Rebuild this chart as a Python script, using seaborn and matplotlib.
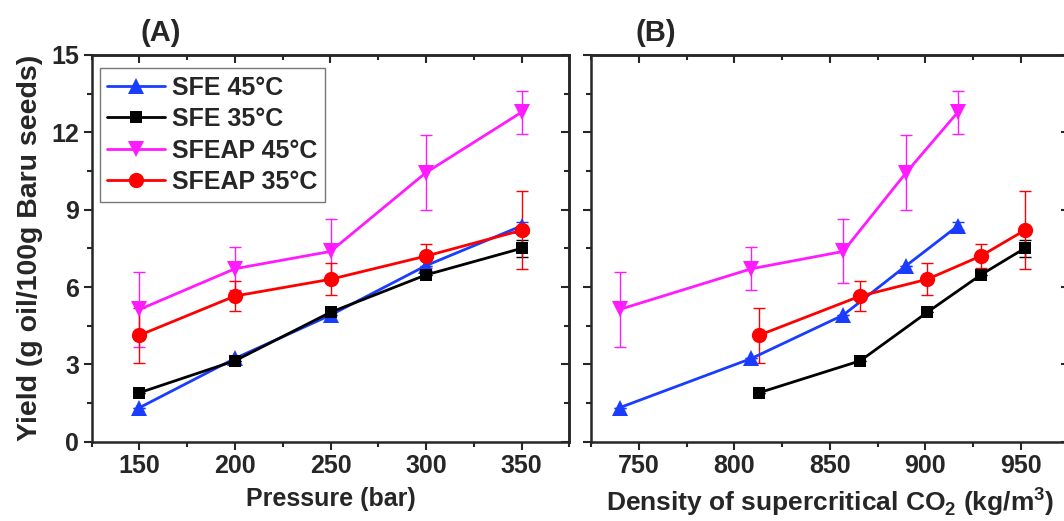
import matplotlib
matplotlib.use('Agg')
from matplotlib import pyplot as plt
from matplotlib.ticker import MultipleLocator
import seaborn as sns
import pandas as pd

pressure = [150, 200, 250, 300, 350]
density_45 = [740, 809, 857, 890, 917]
density_35 = [813, 866, 901, 929, 952]

series_names = ['SFE 45°C', 'SFE 35°C', 'SFEAP 45°C', 'SFEAP 35°C']
sfe_45 = [1.32, 3.23, 4.91, 6.83, 8.37]
sfe_35 = [1.90, 3.14, 5.02, 6.47, 7.50]
sfeap_45 = [5.13, 6.71, 7.38, 10.44, 12.78]
sfeap_35 = [4.13, 5.65, 6.30, 7.20, 8.20]

sfe_45_err = [0, 0, 0, 0, 0.15]
sfe_35_err = [0, 0, 0, 0, 0.33]
sfeap_45_err = [1.47, 0.83, 1.24, 1.45, 0.84]
sfeap_35_err = [1.07, 0.59, 0.62, 0.45, 1.51]

colors = ['#1a3cff', '#000000', '#ff1aff', '#ff0000']
markers = ['^', 's', 'v', 'o']
marker_sizes = [11, 9, 11, 11]

values = [sfe_45, sfe_35, sfeap_45, sfeap_35]
errors = [sfe_45_err, sfe_35_err, sfeap_45_err, sfeap_35_err]
densities = [density_45, density_35, density_45, density_35]

rows = []
for name, ys, errs, dens in zip(series_names, values, errors, densities):
    for p, d, y, e in zip(pressure, dens, ys, errs):
        rows.append({'series': name, 'pressure': p, 'density': d, 'yield': y, 'err': e})
df = pd.DataFrame(rows)

sns.set_style('ticks')
plt.rcParams['font.family'] = ['Liberation Sans', 'DejaVu Sans']
plt.rcParams['font.weight'] = 'bold'
plt.rcParams['mathtext.fontset'] = 'custom'
plt.rcParams['mathtext.rm'] = 'Liberation Sans:bold'
plt.rcParams['mathtext.bf'] = 'Liberation Sans:bold'

fig = plt.figure(figsize=(10.64, 5.21), dpi=100)
W, H = 1064, 521
ax_a = fig.add_axes([91.7 / W, (H - 441.7) / H, 477.6 / W, 386.7 / H])
ax_b = fig.add_axes([591.0 / W, (H - 441.7) / H, 477.6 / W, 386.7 / H])


def draw_panel(ax, xcol, xlim, xticks, show_legend):
    for name, color in zip(series_names, colors):
        sub = df[df['series'] == name]
        ax.errorbar(sub[xcol], sub['yield'], yerr=sub['err'], fmt='none',
                    ecolor=color, elinewidth=1.0, capsize=4, capthick=1.0, zorder=1)
    for name, color, mk, ms in zip(series_names, colors, markers, marker_sizes):
        sub = df[df['series'] == name]
        sns.lineplot(data=sub, x=xcol, y='yield', color=color, marker=mk,
                     markersize=ms, markeredgewidth=0, linewidth=2.0,
                     label=name, legend=show_legend, ax=ax, zorder=3)
    ax.set_xlim(*xlim)
    ax.set_ylim(0, 15)
    ax.set_xticks(xticks)
    ax.xaxis.set_minor_locator(MultipleLocator(25))
    ax.yaxis.set_major_locator(MultipleLocator(3))
    ax.yaxis.set_minor_locator(MultipleLocator(1.5))
    for s in ax.spines.values():
        s.set_linewidth(1.8)
        s.set_visible(True)
    ax.tick_params(axis='both', which='major', direction='out', length=6, width=1.5,
                   labelsize=18, pad=3)
    ax.tick_params(axis='both', which='minor', direction='out', length=3.5, width=1.5)
    for lab in ax.get_xticklabels() + ax.get_yticklabels():
        lab.set_fontweight('bold')

    top = ax.secondary_xaxis('top')
    top.set_xticks(xticks)
    top.xaxis.set_minor_locator(MultipleLocator(25))
    top.tick_params(which='major', direction='in', length=6, width=1.5, labeltop=False)
    top.tick_params(which='minor', direction='in', length=3.5, width=1.5)
    top.spines['top'].set_linewidth(1.8)
    right = ax.secondary_yaxis('right')
    right.yaxis.set_major_locator(MultipleLocator(3))
    right.yaxis.set_minor_locator(MultipleLocator(1.5))
    right.tick_params(which='major', direction='in', length=6, width=1.5, labelright=False)
    right.tick_params(which='minor', direction='in', length=3.5, width=1.5)
    right.spines['right'].set_linewidth(1.8)


draw_panel(ax_a, 'pressure', (125, 375), pressure, True)
draw_panel(ax_b, 'density', (725, 975), [750, 800, 850, 900, 950], False)

ax_a.set_xlabel('Pressure (bar)', fontsize=18, fontweight='bold', labelpad=6)
ax_a.set_ylabel('Yield (g oil/100g Baru seeds)', fontsize=20.5, fontweight='bold', labelpad=6)
ax_b.set_xlabel(r'Density of supercritical CO$_2$ (kg/m$^3$)', fontsize=19,
                fontweight='bold', labelpad=5)
ax_b.set_ylabel('')
ax_b.tick_params(axis='y', labelleft=False)

handles, labels = ax_a.get_legend_handles_labels()
leg = ax_a.legend(handles, labels, loc='upper left', bbox_to_anchor=(0.017, 0.966),
                  borderaxespad=0, frameon=True, fancybox=False,
                  handlelength=2.3, handletextpad=0.3, labelspacing=0.3,
                  borderpad=0.3, prop={'weight': 'bold', 'size': 18})
leg.get_frame().set_edgecolor('#555555')
leg.get_frame().set_linewidth(1.0)

fig.text(161 / W, 1 - 33 / H, '(A)', fontsize=21, fontweight='bold', ha='center', va='center')
fig.text(656 / W, 1 - 33 / H, '(B)', fontsize=21, fontweight='bold', ha='center', va='center')

plt.savefig('out.png', dpi=100)
plt.close()
